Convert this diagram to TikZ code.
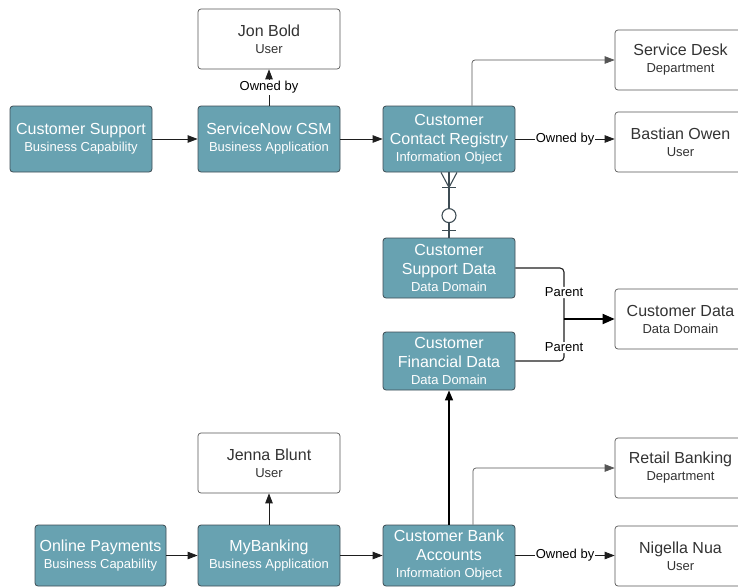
\documentclass[tikz,border=0pt]{standalone}
\usepackage{fontspec}
\setmainfont{Liberation Sans}
\usetikzlibrary{arrows.meta,calc}

\definecolor{capfill}{RGB}{104,162,177}
\definecolor{capedge}{RGB}{62,76,84}
\definecolor{plainedge}{RGB}{85,85,85}
\definecolor{plaintext}{RGB}{51,51,51}
\definecolor{linkgray}{RGB}{30,30,30}

\newcommand\subline[1]{{\fontsize{13}{19}\selectfont #1}}
\newcommand\twoline[2]{#1\\[-2pt]\subline{#2}}

\tikzset{
  basebox/.style={rounded corners=3pt, align=center, inner sep=0pt,
    font=\fontsize{16}{19}\selectfont},
  tealbox/.style={basebox, draw=capedge, fill=capfill, line width=0.8pt,
    text=white, minimum width=142pt, minimum height=66pt},
  plainbox/.style={basebox, draw=plainedge, fill=white, line width=0.7pt,
    text=plaintext, minimum width=131pt, minimum height=60pt},
  link/.style={draw=linkgray, line width=0.8pt,
    -{Triangle[length=10pt,width=7.5pt]}},
  softlink/.style={link, draw=plainedge, line width=0.7pt, rounded corners=3pt},
  heavylink/.style={link, draw=black, line width=1.4pt,
    -{Triangle[length=10pt,width=8pt]}},
  edgelabel/.style={fill=white, inner sep=1pt, text=black,
    font=\fontsize{13}{15}\selectfont},
  erline/.style={draw=capedge, line width=1.1pt},
}

\begin{document}
\begin{tikzpicture}[x=1pt,y=-1pt]
\useasboundingbox (0,0) rectangle (738,587);
\clip (0,0) rectangle (738,587);

% upper chain
\node[tealbox] (cs)  at (81,139)  {\twoline{Customer Support}{Business Capability}};
\node[tealbox] (sn)  at (269,139) {\twoline{ServiceNow CSM}{Business Application}};
\node[plainbox, minimum width=142pt] (jb) at (269,39) {\twoline{Jon Bold}{User}};
\node[tealbox, minimum width=132pt] (ccr) at (449,139)
  {Customer\\Contact Registry\\[-2pt]\subline{Information Object}};
\node[plainbox] (sd) at (680.5,60)  {\twoline{Service Desk}{Department}};
\node[plainbox] (bo) at (680.5,142) {\twoline{Bastian Owen}{User}};

% data domains
\node[tealbox, minimum width=132pt, minimum height=60pt] (csd) at (449,268)
  {Customer\\Support Data\\[-2pt]\subline{Data Domain}};
\node[tealbox, minimum width=132pt, minimum height=58pt] (cfd) at (449,361)
  {Customer\\Financial Data\\[-2pt]\subline{Data Domain}};
\node[plainbox] (cd) at (680.5,319) {\twoline{Customer Data}{Data Domain}};

% lower chain
\node[plainbox, minimum width=142pt] (jbl) at (269,463) {\twoline{Jenna Blunt}{User}};
\node[tealbox, minimum width=131pt, minimum height=61pt] (op) at (100.5,555.5)
  {\twoline{Online Payments}{Business Capability}};
\node[tealbox, minimum height=61pt] (mb) at (269,555.5)
  {\twoline{MyBanking}{Business Application}};
\node[tealbox, minimum width=132pt, minimum height=61pt] (cba) at (449,555.5)
  {Customer Bank\\Accounts\\[-2pt]\subline{Information Object}};
\node[plainbox] (rb) at (680.5,468) {\twoline{Retail Banking}{Department}};
\node[plainbox] (nn) at (680.5,556) {\twoline{Nigella Nua}{User}};

% upper connectors
\draw[link] (cs) -- (sn);
\draw[link] (sn) -- (ccr);
\draw[link] (sn) -- node[edgelabel] {Owned by} (jb);
\draw[softlink] ([xshift=23pt]ccr.north) |- (sd.west);
\draw[link] (ccr.east) -- node[edgelabel, pos=0.5] {Owned by} (ccr.east -| bo.west);

% entity relationship: one-or-many to zero-or-one
\coordinate (erA) at ($(ccr.south)+(0,15)$);
\coordinate (erB) at ($(csd.north)+(0,-7)$);
\draw[erline] (ccr.south) -- (csd.north);
\draw[erline] ($(ccr.south)+(-8,0)$) -- (erA) -- ($(ccr.south)+(8,0)$);
\draw[erline] ($(erA)+(-7,0)$) -- ($(erA)+(7,0)$);
\draw[erline] ($(erB)+(-7,0)$) -- ($(erB)+(7,0)$);
\draw[erline, fill=white] ($(erB)+(0,-15)$) circle (7);

% parent relation into the shared domain
\coordinate (merge) at (564,319);
\draw[draw=linkgray, line width=1.1pt, rounded corners=4pt] (csd.east) -| node[edgelabel, pos=0.74] {Parent} (merge);
\draw[draw=linkgray, line width=1.1pt, rounded corners=4pt] (cfd.east) -| node[edgelabel, pos=0.66] {Parent} (merge);
\draw[heavylink, line width=1.8pt, -{Triangle[length=12pt,width=10pt]}] (merge) -- (cd.west);

% lower connectors
\draw[heavylink] (cba.north) -- (cfd.south);
\draw[softlink] ([xshift=24pt]cba.north) |- (rb.west);
\draw[link] (op) -- (mb);
\draw[link] (mb) -- (cba);
\draw[link] (mb) -- (jbl);
\draw[link] (cba.east) -- node[edgelabel] {Owned by} (cba.east -| nn.west);
\end{tikzpicture}
\end{document}
